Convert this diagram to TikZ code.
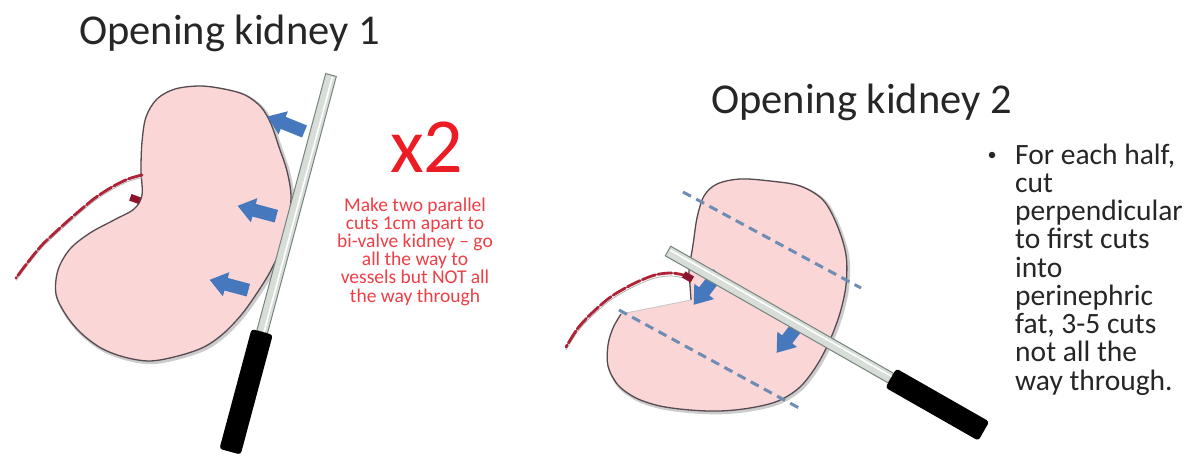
\documentclass[tikz,border=0pt]{standalone}
\usepackage{fontspec}
\setmainfont{Carlito}
\definecolor{kidneypink}{RGB}{250,214,214}
\definecolor{kidneyline}{RGB}{85,75,80}
\definecolor{vesselred}{RGB}{175,35,55}
\definecolor{hilumred}{RGB}{140,20,45}
\definecolor{arrowblue}{RGB}{70,120,190}
\definecolor{cutblue}{RGB}{110,140,180}
\definecolor{rodedge}{RGB}{120,130,125}
\definecolor{rodfill}{RGB}{215,222,216}
\definecolor{notered}{RGB}{236,28,36}
\definecolor{textgray}{RGB}{38,38,38}
\begin{document}
\begin{tikzpicture}[x=1pt,y=-1pt,
  kidney/.style={fill=kidneypink},
  kidneyedge/.style={draw=kidneyline, line width=1.3pt, line join=round},
  kidneyshadow/.style={draw=gray!40, line width=3.5pt, shift={(1.5,1.5)}},
  vesselbase/.style={draw=gray!65, line width=0.7pt},
  vessel/.style={draw=vesselred, line width=2.8pt, line cap=round, dash pattern=on 14pt off 2.5pt},
  hilum/.style={fill=hilumred, inner sep=0pt, minimum width=10pt, minimum height=7pt, rectangle},
  cutline/.style={draw=cutblue, line width=3pt, dash pattern=on 9pt off 6pt},
  titletext/.style={font=\fontsize{42.5}{51}\selectfont, text=textgray, inner sep=0pt},
  pics/cutarrow/.style={code={
    \fill[arrowblue] (-20,-6.5) -- (3,-6.5) -- (3,-12.5) -- (20,0) -- (3,12.5)
      -- (3,6.5) -- (-20,6.5) -- cycle;
  }},
  pics/knife/.style n args={2}{code={
    \draw[draw=rodedge, fill=rodfill, line width=1pt] (0,-5.5) rectangle (#1,5.5);
    \draw[white, line width=1.6pt] (1.5,-1.8) -- (#1,-1.8);
    \fill[black, rounded corners=3pt] (#1,-11) rectangle ({#1+#2},11);
  }}
]
\fill[white] (0,0) rectangle (1190,460);
\useasboundingbox (0,0) rectangle (1190,460);

% ---------- first kidney: bi-valving ----------
\def\kidneyA{(142,195) (141,170) (142,142) (146,117) (157,99) (175,89) (200,86)
  (224,89) (245,95) (261,107) (271,124) (279,147) (287,171) (291,196) (288,222)
  (281,248) (270,272) (257,293) (242,314) (224,333) (204,347) (178,356) (150,361)
  (124,357) (101,348) (81,333) (66,315) (56,294) (58,270) (70,249) (90,233)
  (114,220) (134,209)}
\path[kidneyshadow] plot[smooth cycle, tension=0.55] coordinates {\kidneyA};
\path[kidney, kidneyedge] plot[smooth cycle, tension=0.55] coordinates {\kidneyA};

\def\vesselA{(142,175) (128,179) (112,187) (95,198) (78,212) (60,228) (42,245) (28,262) (16,278)}
\path[vesselbase, shift={(0,2.5)}] plot[smooth] coordinates {\vesselA};
\path[vessel] plot[smooth] coordinates {\vesselA};
\node[hilum, rotate=-20] (hilumA) at (135,199) {};

\pic[rotate=158] at (286,124) {cutarrow};
\pic[rotate=165] at (257,211) {cutarrow};
\pic[rotate=165] at (229,285) {cutarrow};

\pic[rotate=-105] at (331,75) {knife={266}{124}};

% ---------- second kidney: cuts into the fat ----------
\def\kidneyB{(691,300) (690,285) (689,270) (693,245) (697,218) (704,196) (717,184)
  (740,179) (770,181) (800,186) (823,200) (837,225) (846,255) (846,285) (840,313)
  (830,340) (817,365) (800,387) (778,401) (750,408) (720,411) (690,410) (660,406)
  (636,398) (618,385) (608,366) (608,345) (613,328) (621,314)}
\path[kidneyshadow] plot[smooth, tension=0.55] coordinates {\kidneyB};
\path[kidney] plot[smooth, tension=0.55] coordinates {\kidneyB} -- cycle;
\path[kidneyedge] plot[smooth, tension=0.55] coordinates {\kidneyB};
\coordinate (lobeL) at (621,314);
\coordinate (lobeR) at (691,300);
\draw[gray!45, line width=0.8pt] (lobeL) -- (lobeR);

\coordinate (cutAs) at (683,192);
\coordinate (cutAe) at (861,288);
\coordinate (cutBs) at (619,310);
\coordinate (cutBe) at (799,408);
\draw[cutline] (cutAs) -- (cutAe);
\draw[cutline] (cutBs) -- (cutBe);

\def\vesselB{(688,276) (672,273) (655,275) (635,283) (612,296) (593,312) (578,328) (566,347)}
\path[vesselbase, shift={(0,3)}] plot[smooth] coordinates {\vesselB};
\path[vessel] plot[smooth] coordinates {\vesselB};
\node[hilum, rotate=-30] (hilumB) at (688,277) {};

\pic[rotate=232] at (706,289) {cutarrow};
\pic[rotate=232] at (789,337) {cutarrow};

\pic[rotate=-29.7] at (668,251) {knife={256.6}{107}};

% ---------- text ----------
\node[titletext, anchor=base west] (title1) at (79,45) {Opening kidney 1};
\node[titletext, anchor=base west] (title2) at (711,113) {Opening kidney 2};

\node[anchor=base west, inner sep=0pt, text=notered,
  font=\fontsize{78}{90}\selectfont] (twice) at (390,172) {x2};
% a multi-line node sits on the baseline of its last line
\node[anchor=base, inner sep=0pt, align=center, text=notered!85!white,
  font=\fontsize{19.5}{18.2}\selectfont] (howto) at (415,302)
  {Make two parallel\\cuts 1cm apart to\\bi-valve kidney -- go\\all the way to\\vessels but NOT all\\the way through};

\node[circle, fill=textgray, inner sep=0pt, minimum size=6.5pt] (bullet) at (992,155) {};
\node[anchor=base west, inner sep=0pt, align=left, text=textgray,
  font=\fontsize{29.5}{28.25}\selectfont] (steps) at (1015,390)
  {For each half,\\cut\\perpendicular\\to first cuts\\into\\perinephric\\fat, 3-5 cuts\\not all the\\way through.};
\end{tikzpicture}
\end{document}
